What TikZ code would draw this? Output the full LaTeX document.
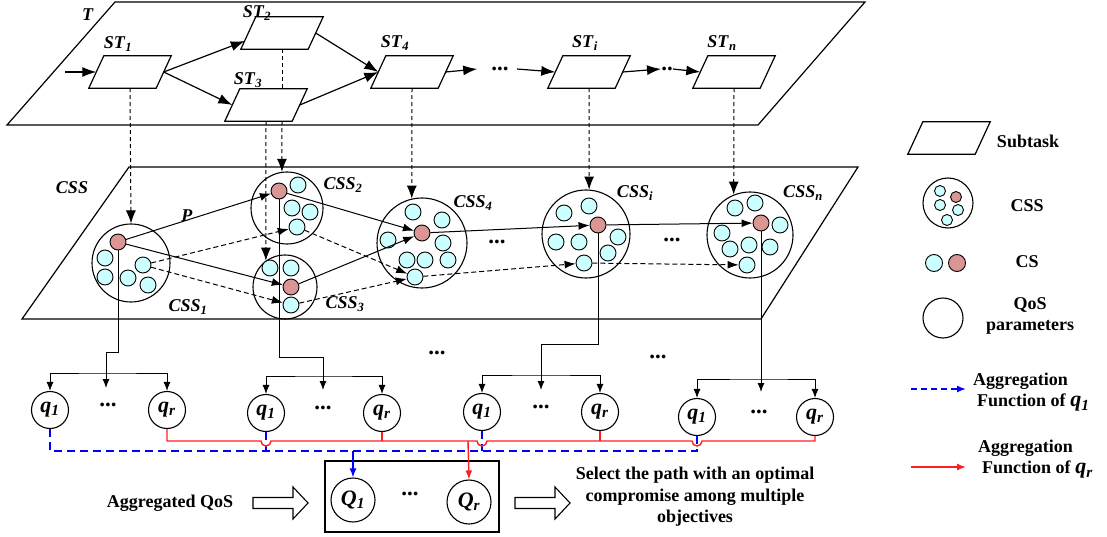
\documentclass[tikz,border=0pt]{standalone}
\usepackage{fontspec}
\setmainfont{Liberation Serif}
\usetikzlibrary{arrows.meta,calc}
\definecolor{cscyan}{RGB}{204,255,255}
\definecolor{csrose}{RGB}{217,150,148}
\definecolor{aggblue}{RGB}{0,0,255}
\definecolor{aggred}{RGB}{255,30,30}
\newcommand{\bi}[1]{\textbf{\textit{#1}}}
\newcommand{\lbl}[2]{\bi{#1}\textsubscript{\bi{#2}}}
\tikzset{
  stbox/.style={rectangle, draw=none, minimum width=67pt, minimum height=32pt, inner sep=0pt},
  stline/.style={draw, fill=white, line width=1.2pt},
  cssbox/.style={circle, draw, line width=1.1pt, inner sep=0pt},
  csb/.style={circle, draw, line width=0.9pt, fill=cscyan, minimum size=16pt, inner sep=0pt},
  csr/.style={csb, fill=csrose},
  qos/.style={circle, draw, line width=1.1pt, minimum size=37pt, inner sep=0pt, font=\fontsize{22}{24}\selectfont},
  bigq/.style={qos, minimum size=44pt},
  lab/.style={font=\fontsize{18}{21}\selectfont\bfseries, inner sep=0pt},
  dotlab/.style={font=\fontsize{23}{24}\selectfont\bfseries, inner sep=0pt},
  tarr/.style={line width=1.2pt, -{Latex[length=14pt,width=10pt]}},
  darr/.style={line width=1pt, dash pattern=on 4pt off 3pt, -{Latex[length=13pt,width=10pt]}},
  csarr/.style={line width=1pt, -{Latex[length=11pt,width=8pt]}},
  csdarr/.style={line width=1pt, dash pattern=on 5pt off 3pt, -{Latex[length=11pt,width=8pt]}},
  qarr/.style={line width=1pt, -{Latex[length=9pt,width=7pt]}},
  qbar/.style={line width=1pt, {Latex[length=9pt,width=7pt]}-{Latex[length=9pt,width=7pt]}},
  bline/.style={draw=aggblue, line width=1.4pt, dash pattern=on 8pt off 5pt},
  rline/.style={draw=aggred, line width=1.4pt},
  blockarr/.style={draw, line width=1.1pt, fill=white},
}
% subtask parallelogram drawn around a named invisible box
\newcommand{\subtaskat}[2]{%
  \node[stbox] (#1) at (#2) {};
  \draw[stline] ($(#1.south west)+(-7.5pt,0pt)$) -- ($(#1.south east)+(-7.5pt,0pt)$)
    -- ($(#1.north east)+(7.5pt,0pt)$) -- ($(#1.north west)+(7.5pt,0pt)$) -- cycle;}
\begin{document}
\begin{tikzpicture}[x=1pt,y=-1pt]
\useasboundingbox (0,0) rectangle (1107,537);

% ---------- T plane ----------
\draw[line width=1.2pt] (115,2) -- (865,2) -- (758,125) -- (7,125) -- cycle;
\node[lab] (Tlab) at (88,15) {\bi{T}};

\subtaskat{st1}{130,72}
\subtaskat{st2}{282,33}
\subtaskat{st3}{266,105}
\subtaskat{st4}{412,72}
\subtaskat{sti}{589,72}
\subtaskat{stn}{734,72}

\node[lab] (lst1) at (118,44) {\lbl{ST}{1}};
\node[lab] (lst2) at (257,13) {\lbl{ST}{2}};
\node[lab] (lst3) at (248,80) {\lbl{ST}{3}};
\node[lab] (lst4) at (395,43) {\lbl{ST}{4}};
\node[lab] (lsti) at (585,43) {\lbl{ST}{i}};
\node[lab] (lstn) at (722,43) {\lbl{ST}{n}};

\coordinate (in0) at (65,72);
\draw[tarr] (in0) -- (st1.west);
\draw[tarr] (st1.east) -- ($(st2.west)+(-3.5pt,-8pt)$);
\draw[tarr] (st1.east) -- (st3.west);
\draw[tarr] (st2.east) -- (st4.west);
\draw[tarr] (st3.east) -- (st4.west);
\node[dotlab] (tdots1) at (500,69) {...};
\draw[tarr] (st4.east) -- ([xshift=-14pt]tdots1.west);
\draw[tarr] ([xshift=8pt]tdots1.east) -- (sti.west);
\node[dotlab] (tdots2) at (667,69) {..};
\draw[tarr] (sti.east) -- (tdots2.west);
\draw[tarr] (tdots2.east) -- (stn.west);

% ---------- CSS plane ----------
\draw[line width=1.2pt] (129,167) -- (858,167) -- (761,319) -- (22,319) -- cycle;
\node[lab] (csslab) at (72,188) {\bi{CSS}};

\node[cssbox, minimum size=78pt] (css1) at (131,263) {};
\node[cssbox, minimum size=72pt] (css2) at (287,208) {};
\node[cssbox, minimum size=64pt] (css3) at (285,287) {};
\node[cssbox, minimum size=90pt] (css4) at (422,243) {};
\node[cssbox, minimum size=88pt] (cssi) at (586,234) {};
\node[cssbox, minimum size=86pt] (cssn) at (750,235) {};

\node[lab] (lcss1) at (188,307) {\lbl{CSS}{1}};
\node[lab] (lcss2) at (343,185) {\lbl{CSS}{2}};
\node[lab] (lcss3) at (345,304) {\lbl{CSS}{3}};
\node[lab] (lcss4) at (473,203) {\lbl{CSS}{4}};
\node[lab] (lcssi) at (635,193) {\lbl{CSS}{i}};
\node[lab] (lcssn) at (803,193) {\lbl{CSS}{n}};

% CSS1
\node[csr] (r1) at (118,242) {};
\node[csb] (c1a) at (105,258) {};
\node[csb] (c1b) at (105,277) {};
\node[csb] (c1c) at (128,278) {};
\node[csb] (d1) at (143,265) {};
\node[csb] (c1e) at (148,285) {};
% CSS2
\node[csr] (r2) at (279,191) {};
\node[csb] (c2a) at (298,185) {};
\node[csb] (c2b) at (292,208) {};
\node[csb] (c2c) at (310,212) {};
\node[csb] (d2) at (297,227) {};
% CSS3
\node[csb] (c3a) at (270,268) {};
\node[csb] (c3b) at (291,268) {};
\node[csr] (r3) at (291,287) {};
\node[csb] (d3) at (291,305) {};
% CSS4
\node[csr] (r4) at (422,233) {};
\node[csb] (c4a) at (413,212) {};
\node[csb] (c4b) at (442,220) {};
\node[csb] (c4c) at (388,240) {};
\node[csb] (c4d) at (443,243) {};
\node[csb] (c4e) at (407,260) {};
\node[csb] (c4f) at (425,260) {};
\node[csb] (c4g) at (448,260) {};
\node[csb] (d4) at (415,277) {};
% CSSi
\node[csr] (ri) at (598,225) {};
\node[csb] (cia) at (564,213) {};
\node[csb] (cib) at (589,206) {};
\node[csb] (cic) at (556,242) {};
\node[csb] (cid) at (579,242) {};
\node[csb] (cie) at (618,237) {};
\node[csb] (cif) at (608,253) {};
\node[csb] (di) at (584,263) {};
% CSSn
\node[csr] (rn) at (761,223) {};
\node[csb] (cna) at (735,208) {};
\node[csb] (cnb) at (755,203) {};
\node[csb] (cnc) at (780,225) {};
\node[csb] (cnd) at (722,233) {};
\node[csb] (cne) at (730,249) {};
\node[csb] (cnf) at (749,245) {};
\node[csb] (cng) at (770,247) {};
\node[csb] (dn) at (747,265) {};

\node[dotlab] (cdots1) at (497,242) {...};
\node[dotlab] (cdots2) at (672,240) {...};

% subtask -> CSS dashed arrows
\draw[darr] (st1.south) -- (css1.north);
\draw[line width=1pt, dash pattern=on 4pt off 3pt] (st2.south) -- (st2.south |- st3.north);
\draw[darr] (st2.south |- st3.south) -- (css2.98);
\draw[darr] (st3.south) -- (css3.126);
\draw[darr] (st4.south) -- (css4.103);
\draw[darr] (sti.south) -- (cssi.86);
\draw[darr] (stn.south) -- (cssn.112);

% CS paths
\draw[csarr] (r1) -- (r2) node[lab, pos=0.42, above=-2pt] (plab) {\bi{P}};
\draw[csarr] (r1) -- (r3);
\draw[csarr] (r2) -- (r4);
\draw[csarr] (r3) -- (r4);
\draw[csarr] (r4) -- (ri);
\draw[csarr] (ri) -- (rn);
\draw[csdarr] (d1) -- (d2);
\draw[csdarr] (d1) -- (d3);
\draw[csdarr] (d2) -- (d4);
\draw[csdarr] (d3) -- (d4);
\draw[csdarr] (d4) -- (di);
\draw[csdarr] (di) -- (dn);

% ---------- QoS parameters ----------
\node[qos] (q11) at (50,410) {\lbl{q}{1}};
\node[qos] (q1r) at (167,410) {\lbl{q}{r}};
\node[dotlab] (g1d) at (108,405) {...};
\node[qos] (q21) at (266,413) {\lbl{q}{1}};
\node[qos] (q2r) at (382,413) {\lbl{q}{r}};
\node[dotlab] (g2d) at (323,408) {...};
\node[qos] (q31) at (482,412) {\lbl{q}{1}};
\node[qos] (q3r) at (600,412) {\lbl{q}{r}};
\node[dotlab] (g3d) at (541,407) {...};
\node[qos] (q41) at (697,417) {\lbl{q}{1}};
\node[qos] (q4r) at (815,417) {\lbl{q}{r}};
\node[dotlab] (g4d) at (759,412) {...};

\node[dotlab] (mdots1) at (437,353) {...};
\node[dotlab] (mdots2) at (658,357) {...};

\coordinate (j1) at (106,352);
\coordinate (g1tip) at (106,388);
\coordinate (bar1) at (106,373);
\coordinate (j2) at (323,357);
\coordinate (g2tip) at (323,390);
\coordinate (bar2) at (323,376);
\coordinate (j3) at (541,344);
\coordinate (g3tip) at (541,390);
\coordinate (bar3) at (541,375);
\coordinate (g4tip) at (761,392);
\coordinate (bar4) at (761,379);

\draw[qarr] (r1.south) |- (j1) -- (g1tip);
\draw[qarr] (r2.south) |- (j2) -- (g2tip);
\draw[qarr] (ri.south) |- (j3) -- (g3tip);
\draw[qarr] (rn.south) -- (g4tip);
\draw[qbar] (q11.north) |- (bar1) -| (q1r.north);
\draw[qbar] (q21.north) |- (bar2) -| (q2r.north);
\draw[qbar] (q31.north) |- (bar3) -| (q3r.north);
\draw[qbar] (q41.north) |- (bar4) -| (q4r.north);

% ---------- aggregation box ----------
\node[draw, line width=1.1pt, minimum width=174pt, minimum height=71pt, inner sep=0pt] (qbox) at (412,496.5) {};
\node[bigq] (Q1) at (353,500) {\lbl{Q}{1}};
\node[bigq] (Qr) at (469,502) {\lbl{Q}{r}};
\node[dotlab] (bdots) at (410,494) {...};

\coordinate (bbus) at (353,451);
\coordinate (rbus) at (468,441);
\draw[bline] (q11.south) |- (bbus) -| (q41.south);
\draw[bline] (q21.south) -- (q21.south |- bbus);
\draw[bline] (q31.south) -- (q31.south |- bbus);
\draw[bline, solid, -{Latex[length=9pt,width=7pt]}] (bbus) -- (Q1.north);

\draw[rline] (q1r.south) |- ($(q21.south |- rbus)+(-5,0)$)
  arc[start angle=180, end angle=0, radius=5]
  -- ($(q31.south |- rbus)+(-5,0)$)
  arc[start angle=180, end angle=0, radius=5]
  -- ($(q41.south |- rbus)+(-5,0)$)
  arc[start angle=180, end angle=0, radius=5]
  -| (q4r.south);
\draw[rline] (q2r.south) -- (q2r.south |- rbus);
\draw[rline] (q3r.south) -- (q3r.south |- rbus);
\draw[rline, -{Latex[length=9pt,width=7pt]}] (rbus) -- (Qr.north);

% block arrows and texts
\node[lab] (aggq) at (170,503) {Aggregated QoS};
\coordinate (ba1) at (253,503);
\draw[blockarr] (ba1) ++(0,-5.5) -- ++(40,0) -- ++(0,-10.5) -- ++(15,16) -- ++(-15,16) -- ++(0,-10.5) -- ++(-40,0) -- cycle;
\coordinate (ba2) at (515,503);
\draw[blockarr] (ba2) ++(0,-5.5) -- ++(40,0) -- ++(0,-10.5) -- ++(15,16) -- ++(-15,16) -- ++(0,-10.5) -- ++(-40,0) -- cycle;
\node[lab, align=center, font=\fontsize{18}{21.5}\selectfont\bfseries] (sel) at (695,497) {Select the path with an optimal\\compromise among multiple\\objectives};

% ---------- legend ----------
\subtaskat{lsub}{949,138}
\node[lab] (tsub) at (1028,141) {Subtask};
\node[cssbox, minimum size=50pt] (lcss) at (948,203) {};
\node[csb, minimum size=11pt] (lc1) at (940,191) {};
\node[csr, minimum size=11pt] (lc2) at (956,197) {};
\node[csb, minimum size=11pt] (lc3) at (940,205) {};
\node[csb, minimum size=11pt] (lc4) at (958,210) {};
\node[csb, minimum size=11pt] (lc5) at (947,220) {};
\node[lab] (tcss) at (1027,206) {CSS};
\node[csb, minimum size=17pt] (lcs1) at (934,263) {};
\node[csr, minimum size=17pt] (lcs2) at (957,263) {};
\node[lab] (tcs) at (1027,262) {CS};
\node[qos, minimum size=40pt] (lqos) at (943,318) {};
\node[lab, align=center] (tqos) at (1030,316) {QoS\\parameters};

\coordinate (lb1) at (911,389);
\coordinate (lb2) at (966,389);
\draw[bline, dash pattern=on 6pt off 4pt, -{Latex[length=9pt,width=7pt]}] (lb1) -- (lb2);
\node[lab, anchor=west] (tagg1) at (973,381) {Aggregation};
\node[lab, anchor=west] (tfun1) at (977,403) {Function of \fontsize{22}{24}\selectfont\lbl{q}{1}};
\coordinate (lr1) at (911,467);
\coordinate (lr2) at (966,467);
\draw[rline, -{Latex[length=9pt,width=7pt]}] (lr1) -- (lr2);
\node[lab, anchor=west] (tagg2) at (978,448) {Aggregation};
\node[lab, anchor=west] (tfun2) at (982,470) {Function of \fontsize{22}{24}\selectfont\lbl{q}{r}};
\end{tikzpicture}
\end{document}
